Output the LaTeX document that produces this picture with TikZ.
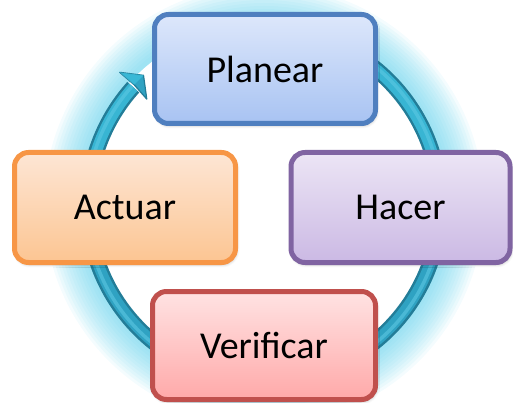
\documentclass[tikz,border=0pt]{standalone}
\usepackage{fontspec}
\setmainfont{Carlito}
\usetikzlibrary{shadows.blur}
\definecolor{glowc}{HTML}{55CDEA}
\definecolor{ringdark}{HTML}{237D98}
\definecolor{ringmid}{HTML}{2FA2C2}
\definecolor{ringlight}{HTML}{5CC8E2}
\definecolor{ringtop}{HTML}{3EC2DF}
\definecolor{plBorder}{HTML}{4F7FBF}
\definecolor{plTop}{HTML}{DDE7FB}
\definecolor{plBot}{HTML}{A8C3F2}
\definecolor{acBorder}{HTML}{F79646}
\definecolor{acTop}{HTML}{FDE6D5}
\definecolor{acBot}{HTML}{FCC592}
\definecolor{haBorder}{HTML}{8064A2}
\definecolor{haTop}{HTML}{ECE5F5}
\definecolor{haBot}{HTML}{CBB9E4}
\definecolor{veBorder}{HTML}{C0504D}
\definecolor{veTop}{HTML}{FFE3E3}
\definecolor{veBot}{HTML}{FFA9A9}
\tikzset{
  stagebox/.style={rounded corners=14pt, line width=5pt,
    font=\fontsize{38}{40}\selectfont, text=black,
    blur shadow={shadow xshift=1pt, shadow yshift=-2pt, shadow blur radius=3pt, shadow opacity=30}},
  glowline/.style={glowc, opacity=0.065},
}
\begin{document}
\begin{tikzpicture}[x=1pt,y=1pt]
\useasboundingbox (0,0) rectangle (513,402);
\coordinate (c) at (264,197);
% glow
\foreach \w in {38,35,...,5}
  \draw[glowline, line width=\w pt] (c) circle[radius=182+\w/2];
% ring
\draw[ringdark, line width=16pt]
  ([shift={(90:176)}]c) arc[start angle=90, end angle=-222, radius=176];
\draw[ringmid, line width=11pt]
  ([shift={(90:176)}]c) arc[start angle=90, end angle=-222, radius=176];
\draw[ringtop, line width=11pt, opacity=0.6]
  ([shift={(90:176)}]c) arc[start angle=90, end angle=0, radius=176];
\draw[ringtop, line width=11pt, opacity=0.6]
  ([shift={(180:176)}]c) arc[start angle=180, end angle=138, radius=176];
\draw[ringlight, line width=3.5pt, opacity=0.6]
  ([shift={(90:177.5)}]c) arc[start angle=90, end angle=-222, radius=177.5];
% arrowhead
\coordinate (tip) at ([shift={(132.9:177)}]c);
\coordinate (b1) at ([shift={(137.9:158)}]c);
\coordinate (b2) at ([shift={(137.4:196)}]c);
\coordinate (bm) at ([shift={(137.2:177)}]c);
\filldraw[fill=ringmid, draw=ringdark, line width=1.2pt, line join=round]
  (b1) -- (tip) -- (b2) -- (bm) -- cycle;
\fill[ringtop, opacity=0.7] (tip) -- (b2) -- (bm) -- cycle;
% boxes
\node[stagebox, draw=plBorder, top color=plTop, bottom color=plBot,
      minimum width=221pt, minimum height=109pt] (pl) at (265,333) {Planear};
\node[stagebox, draw=acBorder, top color=acTop, bottom color=acBot,
      minimum width=221pt, minimum height=110pt] (ac) at (125,194.5) {Actuar};
\node[stagebox, draw=haBorder, top color=haTop, bottom color=haBot,
      minimum width=219pt, minimum height=110pt] (ha) at (400.5,194.5) {Hacer};
\node[stagebox, draw=veBorder, top color=veTop, bottom color=veBot,
      minimum width=223pt, minimum height=108pt] (ve) at (264,56.5) {Verificar};
\end{tikzpicture}
\end{document}
